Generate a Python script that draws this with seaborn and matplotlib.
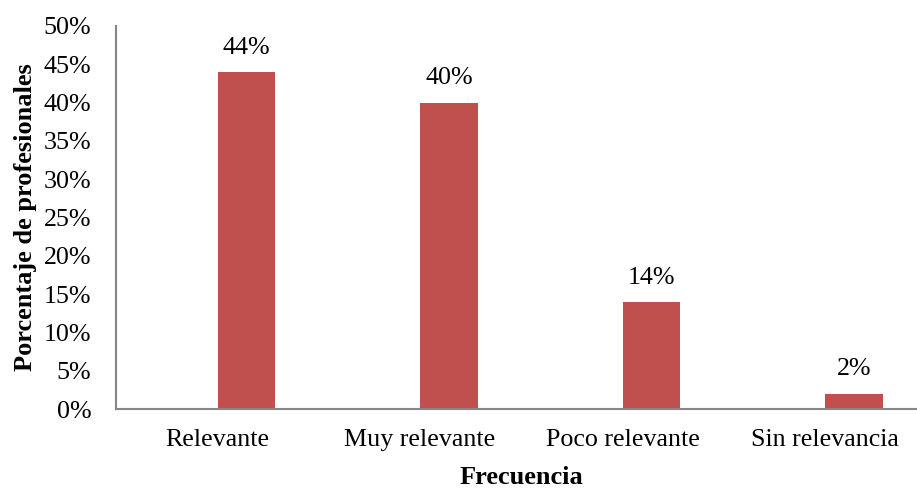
import matplotlib
matplotlib.use("Agg")
import matplotlib.pyplot as plt
import seaborn as sns
import pandas as pd
from matplotlib.ticker import FuncFormatter, FixedLocator

categories = ["Relevante", "Muy relevante", "Poco relevante", "Sin relevancia"]
values = [0.44, 0.40, 0.14, 0.02]
value_labels = ["44%", "40%", "14%", "2%"]
y_ticks = [0, 0.05, 0.10, 0.15, 0.20, 0.25, 0.30, 0.35, 0.40, 0.45, 0.50]

sns.set_theme(style="white")
plt.rcParams["font.family"] = ["Liberation Serif", "DejaVu Serif"]

FS = 18.7

df = pd.DataFrame({
    "cat": categories * 2,
    "serie": ["blank"] * len(categories) + ["data"] * len(categories),
    "val": [0.0] * len(categories) + values,
})

fig = plt.figure(figsize=(9.17, 4.90), dpi=100)
ax = fig.add_axes([116.3 / 917, 81 / 490, 810 / 917, 383 / 490])

sns.barplot(data=df, x="cat", y="val", hue="serie", hue_order=["blank", "data"],
            order=categories, palette={"blank": (1, 1, 1, 0), "data": "#C0504D"},
            width=0.572, dodge=True, errorbar=None, legend=False,
            edgecolor="none", linewidth=0, ax=ax, saturation=1)

cont = ax.containers[-1]
ax.bar_label(cont, labels=value_labels, padding=9.5, fontsize=FS, color="black")

ax.set_xlim(-0.5, 3.5)
ax.set_ylim(0, 0.5)
ax.yaxis.set_major_locator(FixedLocator(y_ticks))
ax.yaxis.set_major_formatter(FuncFormatter(lambda v, p: f"{round(v * 100)}%"))

ax.xaxis.set_minor_locator(FixedLocator([-0.5, 0.5, 1.5, 2.5, 3.5]))
ax.tick_params(axis="x", which="major", length=0, pad=14.5, labelsize=FS, colors="black")
ax.tick_params(axis="x", which="minor", length=6, width=1.2, color="#868686", direction="out")
ax.tick_params(axis="y", which="major", length=6, width=1.2, color="#868686",
               direction="out", labelsize=FS, labelcolor="black", pad=12)

for side in ["top", "right"]:
    ax.spines[side].set_visible(False)
for side in ["left", "bottom"]:
    ax.spines[side].set_color("#868686")
    ax.spines[side].set_linewidth(1.5)

ax.set_xlabel("Frecuencia", fontsize=19, fontweight="bold", color="black", labelpad=11)
ax.set_ylabel("Porcentaje de profesionales", fontsize=19, fontweight="bold",
              color="black")
ax.yaxis.set_label_coords(-0.098, 0.5)
ax.grid(False)
ax.set_facecolor("white")
fig.patch.set_facecolor("white")

fig.savefig("out.png", dpi=100, facecolor="white")
